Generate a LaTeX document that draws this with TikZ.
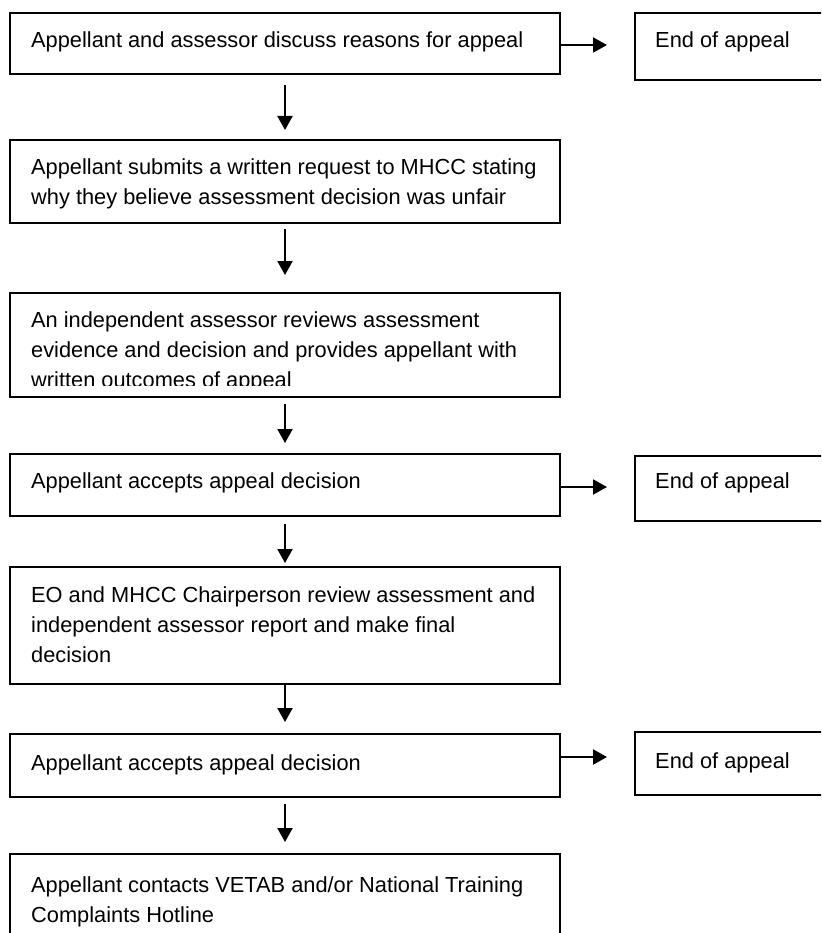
\documentclass[tikz,border=0pt]{standalone}
\usepackage{fontspec}
\setmainfont{Liberation Sans}
\usetikzlibrary{arrows.meta}
\begin{document}
\begin{tikzpicture}[x=1pt,y=-1pt,
  box/.style={draw=black, line width=2pt, rectangle, inner sep=0pt, anchor=north west},
  mainbox/.style={box, minimum width=550pt},
  endbox/.style={box, minimum width=196pt},
  txt/.style={anchor=north west, inner sep=0pt, align=left, font=\fontsize{21.8pt}{30pt}\selectfont},
  arr/.style={line width=2pt, -{Triangle[length=14pt,width=15pt]}}]
\clip (0,0) rectangle (821,933);
\fill[white] (0,0) rectangle (821,933);
% main boxes
\node[mainbox, minimum height=61pt]  (b1) at (9,12)  {};
\node[mainbox, minimum height=83pt]  (b2) at (9,139) {};
\node[mainbox, minimum height=104pt] (b3) at (9,292) {};
\node[mainbox, minimum height=62pt]  (b4) at (9,453) {};
\node[mainbox, minimum height=117pt] (b5) at (9,566) {};
\node[mainbox, minimum height=63pt]  (b6) at (9,733) {};
\node[mainbox, minimum height=83pt]  (b7) at (9,853) {};
% end boxes
\node[endbox, minimum height=67pt] (e1) at (634,12)  {};
\node[endbox, minimum height=65pt] (e2) at (634,455) {};
\node[endbox, minimum height=63pt] (e3) at (634,731) {};
% texts
\node[txt] (t1) at (31,26)  {\strut Appellant and assessor discuss reasons for appeal};
\node[txt] (t2) at (31,153) {\strut Appellant submits a written request to MHCC stating\\why they believe assessment decision was unfair};
\begin{scope}
\clip (0,0) rectangle (821,385);
\node[txt] (t3) at (31,306) {\strut An independent assessor reviews assessment\\evidence and decision and provides appellant with\\written outcomes of appeal};
\end{scope}
\node[txt] (t4) at (31,467) {\strut Appellant accepts appeal decision};
\node[txt] (t5) at (31,581) {\strut EO and MHCC Chairperson review assessment and\\independent assessor report and make final\\decision};
\node[txt] (t6) at (31,749) {\strut Appellant accepts appeal decision};
\node[txt] (t7) at (31,871) {\strut Appellant contacts VETAB and/or National Training\\Complaints Hotline};
\node[txt] (u1) at (655,26)  {\strut End of appeal};
\node[txt] (u2) at (655,467) {\strut End of appeal};
\node[txt] (u3) at (655,747) {\strut End of appeal};
% down arrows
\draw[arr, shorten <=10pt, shorten >=9pt]  (b1.south) -- (b2.north);
\draw[arr, shorten <=5pt,  shorten >=17pt] (b2.south) -- (b3.north);
\draw[arr, shorten <=6pt,  shorten >=10pt] (b3.south) -- (b4.north);
\draw[arr, shorten <=7pt,  shorten >=3pt]  (b4.south) -- (b5.north);
\draw[arr, shorten <=0pt,  shorten >=11pt] (b5.south) -- (b6.north);
\draw[arr, shorten <=6pt,  shorten >=11pt] (b6.south) -- (b7.north);
% right arrows
\draw[arr, shorten >=27pt] (b1.east |- 0,45)  -- (e1.west |- 0,45);
\draw[arr, shorten >=27pt] (b4.east |- 0,487) -- (e2.west |- 0,487);
\draw[arr, shorten >=27pt] (b6.east |- 0,757) -- (e3.west |- 0,757);
\end{tikzpicture}
\end{document}
